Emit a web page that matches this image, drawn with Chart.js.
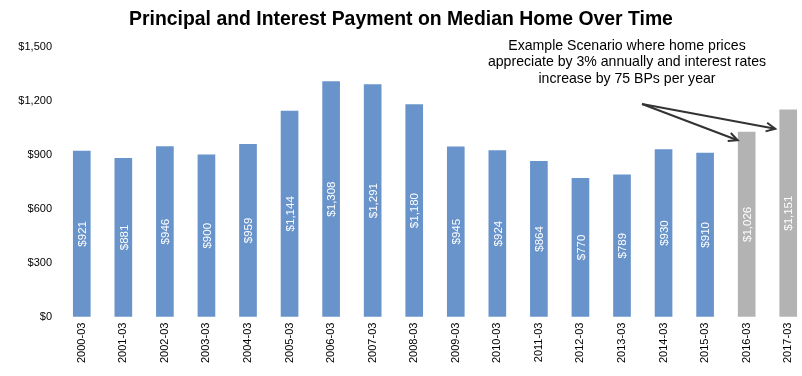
<!DOCTYPE html>
<html>
<head>
<meta charset="utf-8">
<script src="https://cdn.jsdelivr.net/npm/chart.js@4/dist/chart.umd.min.js"></script>
<style>
  html, body { margin: 0; padding: 0; background: #fff; overflow: hidden; width: 802px; height: 376px; }
  #wrap { position: relative; width: 802px; height: 376px; overflow: hidden; }
  #title { position: absolute; left: 0; top: 7px; width: 802px; text-align: center;
           font: bold 19.4px "Liberation Sans", Arial, sans-serif; color: #000; }
  canvas { position: absolute; left: 0; top: 0; }
</style>
</head>
<body>
<div id="wrap">
  <canvas id="pagoChart" width="830" height="376"></canvas>
  <div id="title">Principal and Interest Payment on Median Home Over Time</div>
</div>
<script>
const periodos = ['2000-03', '2001-03', '2002-03', '2003-03', '2004-03', '2005-03', '2006-03', '2007-03', '2008-03',
    '2009-03', '2010-03', '2011-03', '2012-03', '2013-03', '2014-03', '2015-03', '2016-03', '2017-03'];
const pagos = [921, 881, 946, 900, 959, 1144, 1308, 1291, 1180, 945, 924, 864, 770, 789, 930, 910, 1026, 1151];
const escenario = [false, false, false, false, false, false, false, false, false,
    false, false, false, false, false, false, false, true, true];
const ticksY = [0, 300, 600, 900, 1200, 1500];
const notaLineas = ['Example Scenario where home prices', 'appreciate by 3% annually and interest rates', 'increase by 75 BPs per year'];

const fuente = '"Liberation Sans", Arial, sans-serif';
const dinero = v => '$' + v.toLocaleString('en-US');

// etiquetas blancas verticales dentro de cada barra
const etiquetasBarras = {
    id: 'etiquetasBarras',
    afterDatasetsDraw(chart) {
        const ctx = chart.ctx;
        const meta = chart.getDatasetMeta(0);
        ctx.save();
        ctx.fillStyle = '#fff';
        ctx.font = '11.5px ' + fuente;
        ctx.textAlign = 'center';
        ctx.textBaseline = 'middle';
        meta.data.forEach((bar, i) => {
            const mid = (bar.y + bar.base) / 2;
            ctx.save();
            ctx.translate(bar.x, mid);
            ctx.rotate(-Math.PI / 2);
            ctx.fillText(dinero(pagos[i]), 0, 1);
            ctx.restore();
        });
        ctx.restore();
    }
};

// nota con flechas hacia las barras del escenario
const nota = {
    id: 'nota',
    afterDraw(chart) {
        const ctx = chart.ctx;
        const x = chart.scales.x, y = chart.scales.y;
        ctx.save();
        ctx.fillStyle = '#000';
        ctx.font = '14.1px ' + fuente;
        ctx.textAlign = 'center';
        ctx.textBaseline = 'middle';
        notaLineas.forEach((t, i) => ctx.fillText(t, 627, 46 + i * 16.5));

        const origen = { x: 642, y: 104 };
        const destinos = [
            { x: x.getPixelForValue(16) - 9, y: y.getPixelForValue(pagos[16]) + 8 },
            { x: x.getPixelForValue(17) - 13, y: y.getPixelForValue(pagos[17]) + 19 }
        ];
        ctx.strokeStyle = '#333';
        ctx.lineWidth = 2;
        destinos.forEach(d => {
            ctx.beginPath();
            ctx.moveTo(origen.x, origen.y);
            ctx.lineTo(d.x, d.y);
            ctx.stroke();
            const ang = Math.atan2(d.y - origen.y, d.x - origen.x);
            const L = 10, a = 0.45;
            ctx.beginPath();
            ctx.moveTo(d.x - L * Math.cos(ang - a), d.y - L * Math.sin(ang - a));
            ctx.lineTo(d.x, d.y);
            ctx.lineTo(d.x - L * Math.cos(ang + a), d.y - L * Math.sin(ang + a));
            ctx.stroke();
        });
        ctx.restore();
    }
};

new Chart(document.getElementById('pagoChart'), {
    type: 'bar',
    data: {
        labels: periodos,
        datasets: [{
            label: 'Payment',
            data: pagos,
            backgroundColor: escenario.map(e => e ? '#B3B3B3' : '#6894CB'),
            barThickness: 17
        }]
    },
    options: {
        responsive: false,
        animation: false,
        layout: { padding: { top: 47, right: 21, bottom: 7, left: 0 } },
        plugins: { legend: { display: false }, tooltip: { enabled: false } },
        scales: {
            x: {
                grid: { display: false, drawTicks: false },
                border: { display: false },
                ticks: { color: '#000', font: { family: fuente, size: 11 }, minRotation: 90, maxRotation: 90, autoSkip: false, padding: 6 }
            },
            y: {
                min: 0,
                max: 1500,
                afterBuildTicks: s => { s.ticks = ticksY.map(v => ({ value: v })); },
                afterFit: s => { s.width = 61; },
                grid: { display: false },
                border: { display: false },
                ticks: { color: '#000', font: { family: fuente, size: 11 }, padding: 1, callback: v => dinero(v) }
            }
        }
    },
    plugins: [etiquetasBarras, nota]
});
</script>
</body>
</html>
